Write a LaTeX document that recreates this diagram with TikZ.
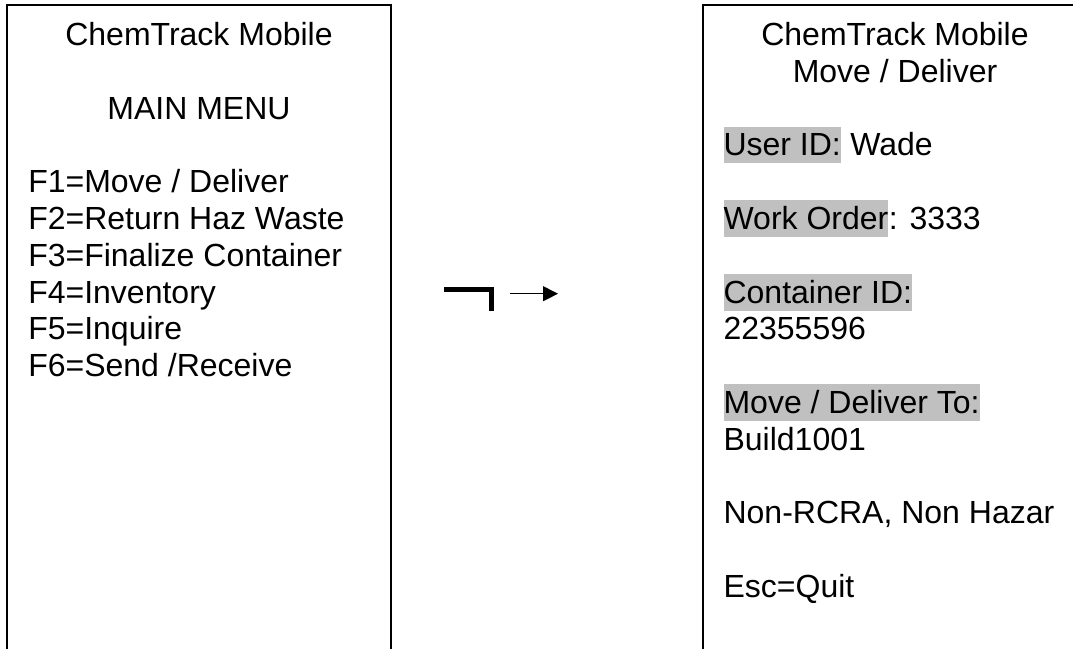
\documentclass[tikz,border=0pt]{standalone}
\usepackage{fontspec}
\setmainfont{Liberation Sans}
\usetikzlibrary{arrows.meta}
\definecolor{hlgray}{RGB}{192,192,192}

\begin{document}
\begin{tikzpicture}[x=0.75pt,y=-0.75pt,
	screen/.style={line width=1.5pt, line join=miter},
	txt/.style={font=\fontsize{24}{27.6}\selectfont, inner sep=0pt, anchor=base west},
	ttl/.style={txt, anchor=base},
	hl/.style={txt, fill=hlgray, text height=21.9pt, text depth=5.55pt}]
	\useasboundingbox (0,0) rectangle (1073,649);
			% left screen
			\draw[screen] (7,649) -- (7,5) -- (391,5) -- (391,649);
			\node[ttl] (lt1) at (199,45.5) {ChemTrack Mobile};
			\node[ttl] (lt2) at (199,119.1) {MAIN MENU};
			\node[txt] (f1) at (28,192.7) {F1=Move / Deliver};
			\node[txt] (f2) at (28,229.5) {F2=Return Haz Waste};
			\node[txt] (f3) at (28,266.3) {F3=Finalize Container};
			\node[txt] (f4) at (28,303.1) {F4=Inventory};
			\node[txt] (f5) at (28,339.9) {F5=Inquire};
			\node[txt] (f6) at (28,376.7) {F6=Send /Receive};
			
			% enter key and arrow
			\draw[line width=3.75pt] (444,289.2) -- (491.5,289.2) -- (491.5,311);
			\coordinate (go1) at (510,293.7);
			\coordinate (go2) at (558,293.7);
			\draw[-{Triangle[length=11.25pt,width=11.25pt]}, line width=0.75pt] (go1) -- (go2);
			
			% right screen
			\draw[screen] (703,649) -- (703,5) -- (1073,5);
			\node[ttl] (rt1) at (895,45.5) {ChemTrack Mobile};
			\node[ttl] (rt2) at (895,82.3) {Move / Deliver};
			\node[hl] (uid) at (723.3,155.9) {User ID:};
			\node[txt] (uidv) at (uid.base east) {\ Wade};
			\node[hl] (wo) at (723.3,229.5) {Work Order};
			\node[txt] (wov) at (wo.base east) {: 3333};
			\node[hl] (cid) at (723.3,303.1) {Container ID:};
			\node[txt] (cidv) at (723.3,339.9) {22355596};
			\node[hl] (dto) at (723.3,413.5) {Move / Deliver To:};
			\node[txt] (dtov) at (723.3,450.3) {Build1001};
			\node[txt] (haz) at (723.3,523.9) {Non-RCRA, Non Hazar};
			\node[txt] (esc) at (723.3,597.5) {Esc=Quit};
		\end{tikzpicture}
\end{document}
